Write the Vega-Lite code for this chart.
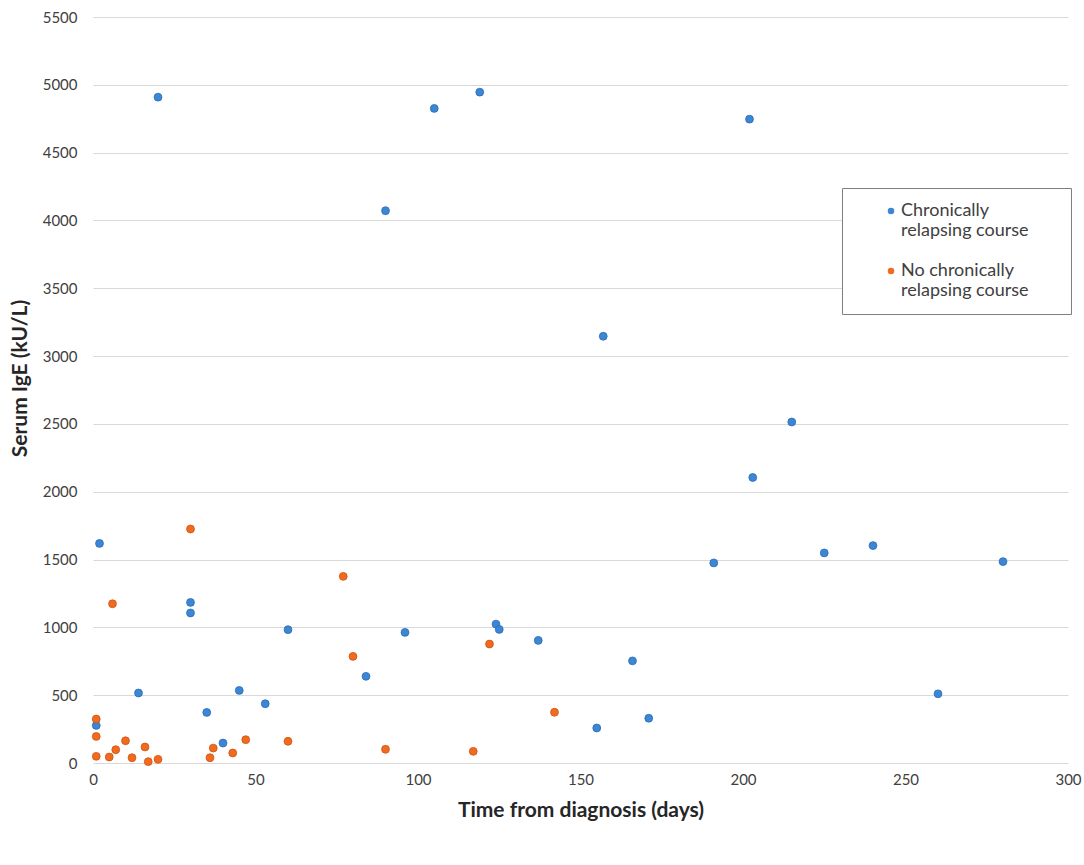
{
  "$schema": "https://vega.github.io/schema/vega-lite/v6.json",
  "width": 975,
  "height": 746,
  "autosize": {"type": "none"},
  "padding": {"left": 93, "top": 17, "right": 16, "bottom": 102},
  "background": "white",
  "data": {
    "values": [
      {"days": 2, "ige": 1619, "course": "Chronically relapsing course"},
      {"days": 30, "ige": 1184, "course": "Chronically relapsing course"},
      {"days": 30, "ige": 1106, "course": "Chronically relapsing course"},
      {"days": 60, "ige": 983, "course": "Chronically relapsing course"},
      {"days": 84, "ige": 639, "course": "Chronically relapsing course"},
      {"days": 14, "ige": 516, "course": "Chronically relapsing course"},
      {"days": 45, "ige": 535, "course": "Chronically relapsing course"},
      {"days": 53, "ige": 437, "course": "Chronically relapsing course"},
      {"days": 35, "ige": 373, "course": "Chronically relapsing course"},
      {"days": 1, "ige": 277, "course": "Chronically relapsing course"},
      {"days": 40, "ige": 147, "course": "Chronically relapsing course"},
      {"days": 96, "ige": 963, "course": "Chronically relapsing course"},
      {"days": 124, "ige": 1024, "course": "Chronically relapsing course"},
      {"days": 125, "ige": 985, "course": "Chronically relapsing course"},
      {"days": 137, "ige": 904, "course": "Chronically relapsing course"},
      {"days": 166, "ige": 753, "course": "Chronically relapsing course"},
      {"days": 155, "ige": 258, "course": "Chronically relapsing course"},
      {"days": 171, "ige": 330, "course": "Chronically relapsing course"},
      {"days": 20, "ige": 4909, "course": "Chronically relapsing course"},
      {"days": 105, "ige": 4826, "course": "Chronically relapsing course"},
      {"days": 119, "ige": 4946, "course": "Chronically relapsing course"},
      {"days": 90, "ige": 4072, "course": "Chronically relapsing course"},
      {"days": 202, "ige": 4747, "course": "Chronically relapsing course"},
      {"days": 157, "ige": 3146, "course": "Chronically relapsing course"},
      {"days": 215, "ige": 2514, "course": "Chronically relapsing course"},
      {"days": 203, "ige": 2105, "course": "Chronically relapsing course"},
      {"days": 191, "ige": 1475, "course": "Chronically relapsing course"},
      {"days": 225, "ige": 1549, "course": "Chronically relapsing course"},
      {"days": 240, "ige": 1603, "course": "Chronically relapsing course"},
      {"days": 280, "ige": 1485, "course": "Chronically relapsing course"},
      {"days": 260, "ige": 510, "course": "Chronically relapsing course"},
      {"days": 30, "ige": 1725, "course": "No chronically relapsing course"},
      {"days": 77, "ige": 1376, "course": "No chronically relapsing course"},
      {"days": 6, "ige": 1174, "course": "No chronically relapsing course"},
      {"days": 80, "ige": 786, "course": "No chronically relapsing course"},
      {"days": 1, "ige": 324, "course": "No chronically relapsing course"},
      {"days": 1, "ige": 196, "course": "No chronically relapsing course"},
      {"days": 10, "ige": 164, "course": "No chronically relapsing course"},
      {"days": 16, "ige": 118, "course": "No chronically relapsing course"},
      {"days": 47, "ige": 172, "course": "No chronically relapsing course"},
      {"days": 60, "ige": 160, "course": "No chronically relapsing course"},
      {"days": 90, "ige": 101, "course": "No chronically relapsing course"},
      {"days": 37, "ige": 110, "course": "No chronically relapsing course"},
      {"days": 7, "ige": 98, "course": "No chronically relapsing course"},
      {"days": 1, "ige": 49, "course": "No chronically relapsing course"},
      {"days": 5, "ige": 44, "course": "No chronically relapsing course"},
      {"days": 12, "ige": 39, "course": "No chronically relapsing course"},
      {"days": 43, "ige": 74, "course": "No chronically relapsing course"},
      {"days": 36, "ige": 39, "course": "No chronically relapsing course"},
      {"days": 17, "ige": 10, "course": "No chronically relapsing course"},
      {"days": 20, "ige": 27, "course": "No chronically relapsing course"},
      {"days": 122, "ige": 877, "course": "No chronically relapsing course"},
      {"days": 142, "ige": 374, "course": "No chronically relapsing course"},
      {"days": 117, "ige": 86, "course": "No chronically relapsing course"}
    ]
  },
  "mark": {"type": "point", "filled": true, "opacity": 1, "size": 62, "strokeWidth": 0.8},
  "encoding": {
    "x": {
      "field": "days",
      "type": "quantitative",
      "scale": {"domain": [0, 300], "nice": false},
      "axis": {
        "title": "Time from diagnosis (days)",
        "values": [0, 50, 100, 150, 200, 250, 300],
        "grid": false,
        "domain": false,
        "ticks": false,
        "labelFlush": false,
        "labelPadding": 9,
        "titleBaseline": "middle",
        "titleY": 47
      }
    },
    "y": {
      "field": "ige",
      "type": "quantitative",
      "scale": {"domain": [0, 5500], "nice": false},
      "axis": {
        "title": "Serum IgE (kU/L)",
        "format": "d",
        "values": [0, 500, 1000, 1500, 2000, 2500, 3000, 3500, 4000, 4500, 5000, 5500],
        "grid": true,
        "domain": false,
        "ticks": false,
        "labelPadding": 16,
        "titleX": -73,
        "titleY": 361,
        "titleBaseline": "middle"
      }
    },
    "color": {
      "field": "course",
      "type": "nominal",
      "scale": {
        "domain": ["Chronically relapsing course", "No chronically relapsing course"],
        "range": ["#3B87D6", "#F26A1E"]
      },
      "legend": {
        "title": null,
        "orient": "none",
        "legendX": 749,
        "legendY": 171,
        "strokeColor": "#7f7f7f",
        "fillColor": "white",
        "padding": 14,
        "symbolOffset": 26,
        "symbolType": "circle",
        "symbolSize": 42,
        "symbolStrokeWidth": 0,
        "labelOffset": 1,
        "labelFontSize": 18,
        "labelFont": "Lato",
        "labelColor": "#404040",
        "labelBaseline": "middle",
        "labelLimit": 300,
        "rowPadding": 22,
        "labelExpr": "datum.label == 'Chronically relapsing course' ? ['Chronically', 'relapsing course\u00a0\u00a0\u00a0\u00a0\u00a0\u00a0\u200b'] : ['No chronically', 'relapsing course\u00a0\u00a0\u00a0\u00a0\u00a0\u00a0\u200b']"
      }
    },
    "stroke": {
      "field": "course",
      "type": "nominal",
      "scale": {
        "domain": ["Chronically relapsing course", "No chronically relapsing course"],
        "range": ["#2C6BB0", "#CC5414"]
      },
      "legend": null
    }
  },
  "config": {
    "view": {"stroke": null},
    "axis": {
      "labelFont": "Lato",
      "labelFontSize": 15,
      "labelColor": "#404040",
      "titleFont": "Lato",
      "titleFontSize": 21,
      "titleFontWeight": "bold",
      "titleColor": "#262626",
      "gridColor": "#d9d9d9",
      "gridWidth": 1.2
    }
  }
}
